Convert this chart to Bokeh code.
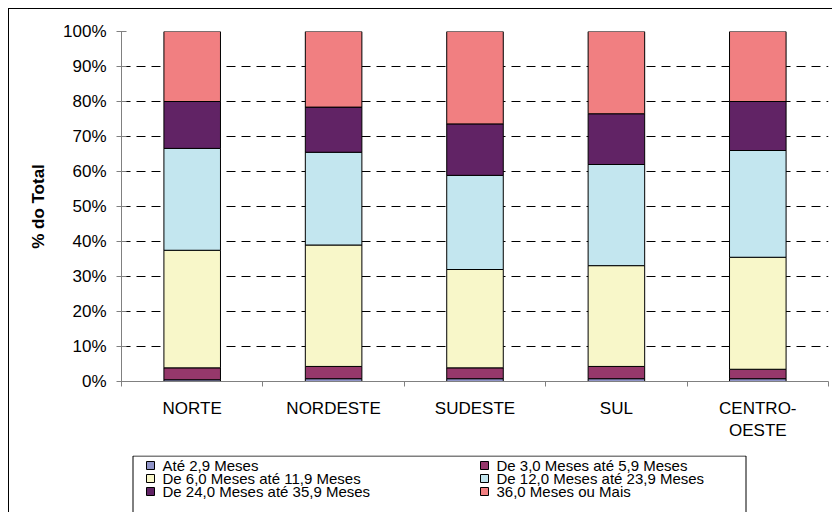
from bokeh.plotting import figure
from bokeh.layouts import column
from bokeh.models import FixedTicker, ColumnDataSource, Range1d
from bokeh.core.properties import value
from bokeh.embed import file_html
from bokeh.resources import INLINE

categories = ["NORTE", "NORDESTE", "SUDESTE", "SUL", "CENTRO-OESTE"]
series_names = ["Até 2,9 Meses", "De 3,0 Meses até 5,9 Meses",
                "De 6,0 Meses até 11,9 Meses", "De 12,0 Meses até 23,9 Meses",
                "De 24,0 Meses até 35,9 Meses", "36,0 Meses ou Mais"]
ate_2_9 = [0.5, 0.8, 0.8, 0.8, 0.8]
de_3_0 = [3.4, 3.5, 3.1, 3.5, 2.7]
de_6_0 = [33.6, 34.7, 28.1, 28.8, 32.0]
de_12_0 = [29.1, 26.5, 26.9, 28.9, 30.5]
de_24_0 = [13.4, 12.9, 14.7, 14.5, 14.0]
mais_36 = [20.0, 21.6, 26.4, 23.5, 20.0]
y_ticks = [0, 10, 20, 30, 40, 50, 60, 70, 80, 90, 100]

colors = ["#9094C8", "#96386B", "#F8F7C9", "#C3E6EF", "#612365", "#F17F81"]
FONT = "Liberation Sans"

keys = ["s0", "s1", "s2", "s3", "s4", "s5"]
xpos = list(range(len(categories)))
source = ColumnDataSource(dict(x=xpos, s0=ate_2_9, s1=de_3_0, s2=de_6_0,
                               s3=de_12_0, s4=de_24_0, s5=mais_36))

W = 823            # content width (page 832 - 8 margin - 1 border)
ORIGIN = 9         # page offset of content (margin + border)
BL, BR = 112, 4    # left / right borders of both figures (frames aligned)
H_TOP = 446        # chart part height
H_LEG = 503 - H_TOP

p = figure(width=W, height=H_TOP, output_backend="svg", toolbar_location=None,
           x_range=Range1d(-0.5, len(categories) - 0.5), y_range=Range1d(0, 100),
           min_border_left=BL, min_border_right=BR, min_border_top=22,
           min_border_bottom=74)
p.outline_line_color = None
p.background_fill_color = "white"
p.border_fill_color = "white"

p.vbar_stack(keys, x="x", width=0.40, source=source, color=colors,
             line_color="#000000", line_width=1)

# grid
p.xgrid.visible = False
p.ygrid.ticker = FixedTicker(ticks=y_ticks)
p.ygrid.grid_line_color = "#000000"
p.ygrid.grid_line_dash = "9 6"
p.ygrid.grid_line_width = 1

# y axis
p.yaxis.ticker = FixedTicker(ticks=y_ticks)
p.yaxis.major_label_overrides = {t: f"{t}%" for t in y_ticks}
p.yaxis.axis_line_color = "#808080"
p.yaxis.major_tick_line_color = "#808080"
p.yaxis.major_tick_in = 5
p.yaxis.major_tick_out = 5
p.yaxis.minor_tick_line_color = None
p.yaxis.major_label_text_font = FONT
p.yaxis.major_label_text_font_size = "17px"
p.yaxis.major_label_text_color = "#000000"
p.yaxis.major_label_standoff = 10
p.yaxis.axis_label = "% do Total"
p.yaxis.axis_label_text_font = FONT
p.yaxis.axis_label_text_font_size = "17px"
p.yaxis.axis_label_text_font_style = "bold"
p.yaxis.axis_label_text_color = "#000000"
p.yaxis.axis_label_standoff = 12

# x axis: labels at category centres, ticks at category boundaries
boundaries = [x - 0.5 for x in xpos] + [xpos[-1] + 0.5]
p.xaxis.ticker = FixedTicker(ticks=xpos, minor_ticks=boundaries)
p.xaxis.major_label_overrides = {i: c.replace("-", "-\n") for i, c in zip(xpos, categories)}
p.xaxis.axis_line_color = "#808080"
p.xaxis.major_tick_line_color = None
p.xaxis.major_tick_in = 0
p.xaxis.major_tick_out = 0
p.xaxis.minor_tick_line_color = "#808080"
p.xaxis.minor_tick_in = 0
p.xaxis.minor_tick_out = 5
p.xaxis.major_label_text_font = FONT
p.xaxis.major_label_text_font_size = "17px"
p.xaxis.major_label_text_color = "#000000"
p.xaxis.major_label_standoff = 12

# legend strip below the chart; its data space is in page pixels
fx0 = ORIGIN + BL
fx1 = ORIGIN + W - BR
fy0 = ORIGIN + H_TOP
fy1 = ORIGIN + H_TOP + H_LEG
lf = figure(width=W, height=H_LEG, output_backend="svg", toolbar_location=None,
            x_axis_location=None, y_axis_location=None,
            x_range=Range1d(fx0, fx1), y_range=Range1d(fy1, fy0),
            min_border_left=BL, min_border_right=BR,
            min_border_top=0, min_border_bottom=0)
lf.outline_line_color = None
lf.xgrid.visible = False
lf.ygrid.visible = False
lf.border_fill_color = "white"
lf.background_fill_color = "white"

BOX_L, BOX_R, BOX_T = 132.5, 745.5, fy0 + 0.5
lf.quad(left=[BOX_L], right=[BOX_R], top=[BOX_T], bottom=[fy1 + 20],
        fill_color="white", line_color="#000000", line_width=1)

COL_X = [150, 484]
ROW_Y0, ROW_DY = 465, 13
sq_x = [COL_X[i % 2] for i in range(len(series_names))]
sq_y = [ROW_Y0 + ROW_DY * (i // 2) for i in range(len(series_names))]
lf.scatter(x=sq_x, y=sq_y, marker="square", size=8, fill_color=colors,
           line_color="#000000", line_width=1)
lf.text(x=[x + 12 for x in sq_x], y=sq_y, text=series_names,
        text_font=value(FONT), text_font_size="15px", text_color="#000000",
        text_baseline="middle", text_align="left")

layout = column(p, lf, spacing=0)
layout.margin = (8, 0, 0, 8)
layout.styles = {"border-left": "1px solid #000000", "border-top": "1px solid #000000"}

open("out.html", "w").write(file_html(layout, INLINE))
